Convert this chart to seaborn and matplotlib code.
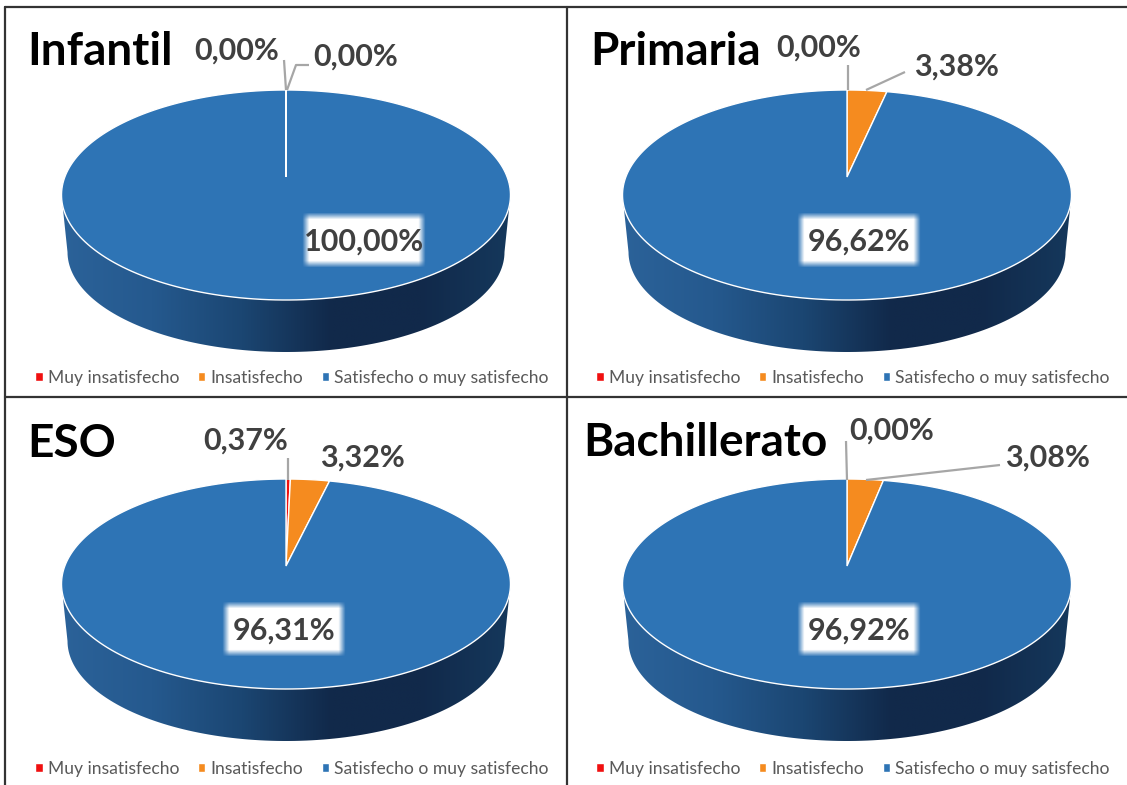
"""Four tilted pie panels: satisfaction by school stage."""
import matplotlib
matplotlib.use('Agg')
import matplotlib.pyplot as plt
import numpy as np
import seaborn as sns
from matplotlib.colors import LinearSegmentedColormap
from matplotlib.lines import Line2D
from matplotlib.patches import Patch, Polygon

stages = ['Infantil', 'Primaria', 'ESO', 'Bachillerato']
categories = ['Muy insatisfecho', 'Insatisfecho', 'Satisfecho o muy satisfecho']
muy_insatisfecho = [0.00, 0.00, 0.37, 0.00]
insatisfecho = [0.00, 3.38, 3.32, 3.08]
satisfecho = [100.00, 96.62, 96.31, 96.92]

COLORS = ['#F01010', '#F58B1F', '#2E74B5']
WALL = LinearSegmentedColormap.from_list('wall', ['#2B6299', '#25598E', '#1B4672', '#11294A', '#11294A', '#15385C'])
W, H = 1127, 785

# layout, in picture pixels: panel box, pie apex, title, label centres, leader polylines
PANELS = [
    dict(box=(5, 7, 567, 397), apex=(286, 177), title=(27, 52),
         labels=[(237, 51), (356, 57), (364, 242)],
         leaders=[[(286, 90), (284, 60)], [(287, 90), (296, 65), (309, 65)]]),
    dict(box=(567, 7, 1127, 397), apex=(847, 177), title=(590, 52),
         labels=[(819, 48), (956, 67), (859, 242)],
         leaders=[[(848, 90), (848, 65)], [(866, 90), (905, 72)]]),
    dict(box=(5, 397, 567, 785), apex=(286, 566), title=(27, 444),
         labels=[(246, 441), (362, 458), (284, 631)],
         leaders=[[(288, 480), (288, 458)]]),
    dict(box=(567, 397, 1127, 785), apex=(847, 566), title=(583, 443),
         labels=[(892, 431), (1047, 458), (859, 631)],
         leaders=[[(847, 480), (846, 441)], [(866, 480), (1000, 465)]]),
]
UP, DOWN, RX, DEPTH = 87, 123, 224.5, 52


def tilt(x, y, apex):
    # projective map of the unit circle onto the tilted top face
    a = 2 * UP * DOWN / (UP + DOWN)
    c = a / UP - 1
    y0 = -18 / (a + 18 * c)
    k = RX * (1 + c * y0) / np.sqrt(1 - y0 ** 2)
    return apex[0] + k * x / (1 + c * y), apex[1] - a * y / (1 + c * y)


def pct(v):
    return f'{v:.2f}'.replace('.', ',') + '%'


sns.set_theme(style='white')
plt.rcParams['font.family'] = ['Lato', 'DejaVu Sans']
fig = plt.figure(figsize=(W / 100, H / 100), dpi=100, facecolor='white')

for i, (stage, panel) in enumerate(zip(stages, PANELS)):
    x0, y0, x1, y1 = panel['box']
    apex = panel['apex']
    ax = fig.add_axes([x0 / W, 1 - y1 / H, (x1 - x0) / W, (y1 - y0) / H])
    values = [muy_insatisfecho[i], insatisfecho[i], satisfecho[i]]
    wedges, _ = ax.pie(values, colors=COLORS, startangle=90, counterclock=False)
    ax.set_aspect('auto')
    ax.set_xlim(x0, x1)
    ax.set_ylim(y1, y0)

    # side wall: gradient clipped to the lower rim
    cy = apex[1] + 18
    t = np.radians(np.linspace(180, 360, 120))
    wall_xy = np.column_stack([apex[0] + (RX - 6) * np.cos(t),
                               cy + DEPTH + 5 + 100 * -np.sin(t)])
    wall_xy = np.vstack([[apex[0] - RX, cy], wall_xy, [apex[0] + RX, cy]])
    wall = Polygon(wall_xy, closed=True, transform=ax.transData, fc='none', ec='none')
    ax.add_patch(wall)
    im = ax.imshow(np.linspace(0, 1, 256)[None, :], cmap=WALL, aspect='auto', zorder=1,
                   extent=(apex[0] - RX, apex[0] + RX, cy + DEPTH + 110, cy))
    im.set_clip_path(wall)
    ax.set_xlim(x0, x1)
    ax.set_ylim(y1, y0)

    # top face, from the angles the pie worked out
    for w, col in zip(wedges, COLORS):
        th = np.radians(np.linspace(w.theta1, w.theta2, 240))
        px, py = tilt(np.cos(th), np.sin(th), apex)
        ax.add_patch(Polygon(np.column_stack([np.r_[apex[0], px], np.r_[apex[1], py]]), closed=True,
                             fc=col, ec='white', lw=1.0, zorder=2))
        w.remove()

    # leaders, then labels
    for line in panel['leaders']:
        xs, ys = zip(*line)
        ax.plot(xs, ys, color='#A6A6A6', lw=1.6, zorder=3, solid_capstyle='butt')
    for v, (lx, ly) in zip(values, panel['labels']):
        ax.text(lx, ly, pct(v), ha='center', va='center', fontsize=22, fontweight='bold',
                color='#404040', zorder=6)
    # feathered white plate behind the big label
    lx, ly = panel['labels'][2]
    hw, hh = 62, 28
    gx = np.clip((hw - np.abs(np.linspace(-hw - 2, hw + 2, 140))) / 7, 0, 1)
    gy = np.clip((hh - np.abs(np.linspace(-hh - 2, hh + 2, 60))) / 7, 0, 1)
    plate = np.ones((60, 140, 4))
    plate[..., 3] = np.outer(gy, gx)
    ax.imshow(plate, extent=(lx - hw - 2, lx + hw + 2, ly + hh, ly - hh - 4), aspect='auto', zorder=5)
    ax.set_xlim(x0, x1)
    ax.set_ylim(y1, y0)

    ax.text(panel['title'][0], panel['title'][1], stage, ha='left', va='center', fontsize=33,
            fontweight='bold', color='black', zorder=6)

    handles = [Patch(facecolor=c) for c in COLORS]
    leg = ax.legend(handles, categories, ncol=3, frameon=False, fontsize=12.6, loc='center',
                    bbox_to_anchor=(apex[0] + 6, y1 - 19 if i < 2 else y1 - 16),
                    bbox_transform=ax.transData, handlelength=0.42, handleheight=0.42,
                    handletextpad=0.3, columnspacing=1.05, borderpad=0)
    for txt in leg.get_texts():
        txt.set_color('#595959')

# panel rules
rules = [((5, 7), (1127, 7)), ((5, 7), (5, 785)), ((567, 7), (567, 785)), ((5, 397), (1127, 397))]
for (xa, ya), (xb, yb) in rules:
    fig.add_artist(Line2D([xa / W, xb / W], [1 - ya / H, 1 - yb / H], color='#333333', lw=1.6))

fig.savefig('out.png', dpi=100)
